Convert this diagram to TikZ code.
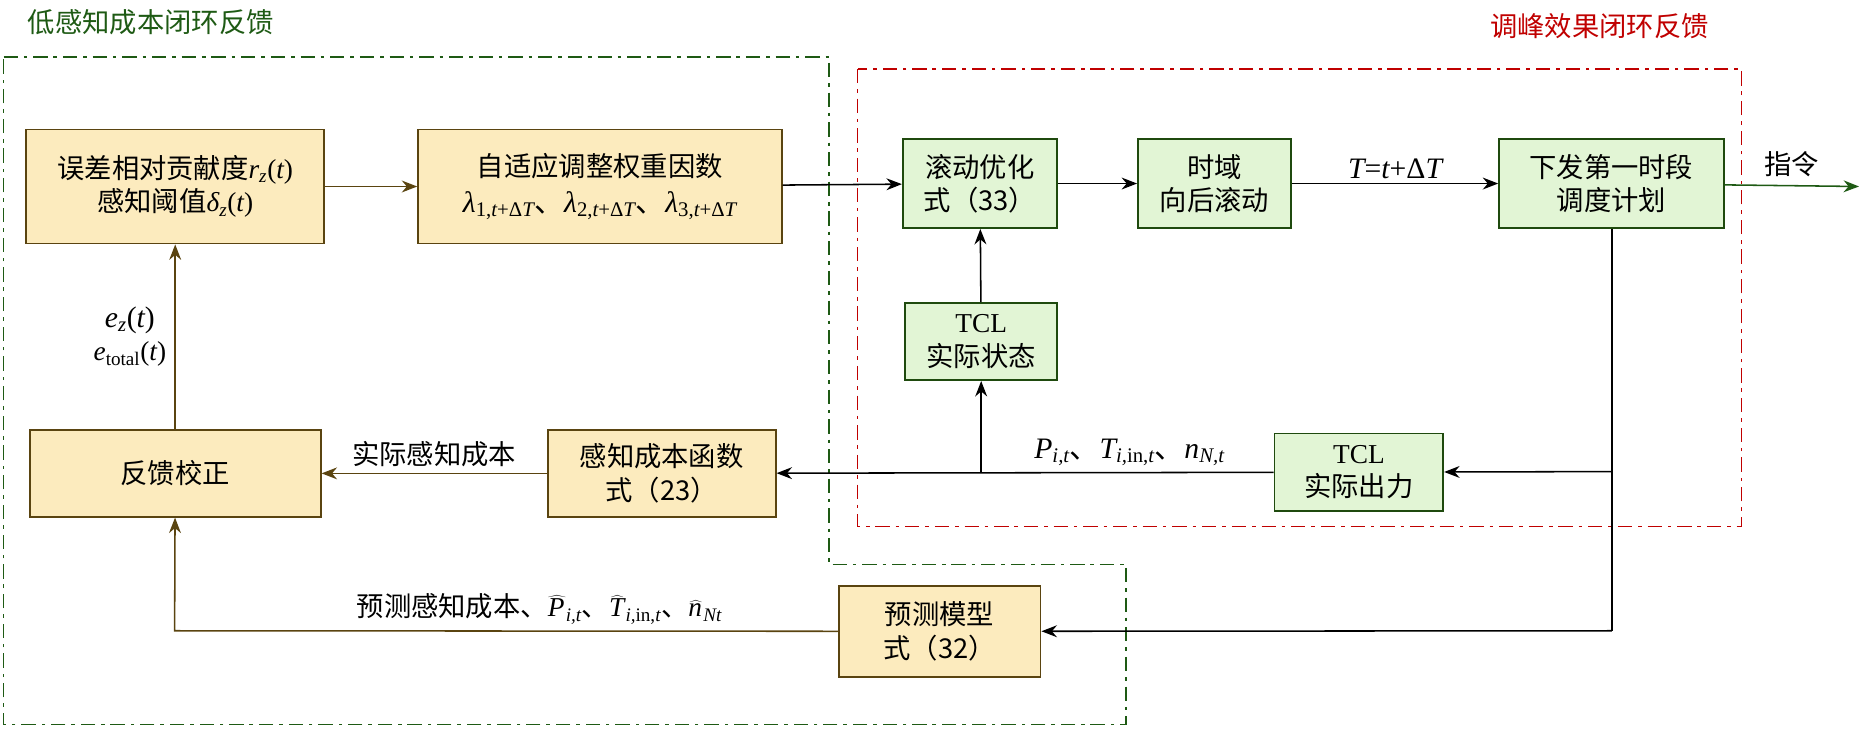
\documentclass[tikz,border=0pt]{standalone}
\usepackage{fontspec}
\setmainfont{Liberation Serif}
\newfontfamily\cjk{Noto Sans CJK SC}
\usetikzlibrary{arrows.meta}
\definecolor{ybox}{HTML}{FCEBBE}
\definecolor{ybord}{HTML}{5A4410}
\definecolor{gbox}{HTML}{E2F5D5}
\definecolor{gbord}{HTML}{1F4A0E}
\definecolor{dgreen}{HTML}{1E5A14}
\definecolor{dred}{HTML}{C00000}
\newcommand{\mi}[1]{{\rmfamily\itshape #1}}
\newcommand{\mr}[1]{{\rmfamily #1}}
\newcommand{\sbx}[1]{\textsubscript{#1}}
\newcommand{\hatx}[1]{$\widehat{\hbox{\mi{#1}\kern1pt}}$}
\begin{document}
\begin{tikzpicture}[x=1pt,y=-1pt,
  every node/.style={font=\fontsize{23}{28}\selectfont\cjk},
  yb/.style={draw=ybord,fill=ybox,line width=1.5pt,align=center,inner sep=0},
  gb/.style={draw=gbord,fill=gbox,line width=1.5pt,align=center,inner sep=0},
  arr/.style={line width=1.3pt,-{Stealth[length=13pt,width=10pt]}},
  barr/.style={arr,draw=ybord},
  lbl/.style={inner sep=1pt},
  dd/.style={line width=1.2pt,dash pattern=on 12pt off 5pt on 3pt off 5pt}]
\useasboundingbox (0,0) rectangle (1565,614);
% regions
\draw[dd,draw=dgreen] (3,48) -- (698,48) -- (698,475) -- (948,475) -- (948,610) -- (3,610) -- cycle;
\draw[dd,draw=dred] (722,58) rectangle (1466,443);
\node[text=dgreen,anchor=west] (t1) at (20,19) {低感知成本闭环反馈};
\node[text=dred,anchor=east] (t2) at (1442,22) {调峰效果闭环反馈};
% boxes
\node[yb,minimum width=251,minimum height=96] (b1) at (147.5,157) {误差相对贡献度\mi{r}\sbx{\mi{z}}\mr{(}\mi{t}\mr{)}\\感知阈值\mi{δ}\sbx{\mi{z}}\mr{(}\mi{t}\mr{)}};
\node[yb,minimum width=306,minimum height=96] (b2) at (505,157) {自适应调整权重因数\\[2pt]{\fontsize{25}{28}\selectfont\mi{λ}\sbx{\mr{1,}\mi{t}\mr{+Δ}\mi{T}}、\mi{λ}\sbx{\mr{2,}\mi{t}\mr{+Δ}\mi{T}}、\mi{λ}\sbx{\mr{3,}\mi{t}\mr{+Δ}\mi{T}}}};
\node[yb,minimum width=245,minimum height=73] (b3) at (147.5,398.5) {反馈校正};
\node[yb,minimum width=192,minimum height=73] (b4) at (557,398.5) {感知成本函数\\式（23）};
\node[yb,minimum width=170,minimum height=77] (b5) at (791,531.5) {预测模型\\式（32）};
\node[gb,minimum width=130,minimum height=75] (g1) at (825,154.5) {滚动优化\\式（33）};
\node[gb,minimum width=129,minimum height=75] (g2) at (1022.5,154.5) {时域\\向后滚动};
\node[gb,minimum width=189,minimum height=75] (g3) at (1356.5,154.5) {下发第一时段\\调度计划};
\node[gb,minimum width=128,minimum height=65] (g4) at (826,287.5) {\mr{TCL}\\实际状态};
\node[gb,minimum width=142,minimum height=65] (g5) at (1144,397.5) {\mr{TCL}\\实际出力};
% coordinates
\coordinate (out) at (1565,157);
\coordinate (j1) at (1357,397);
\coordinate (j2) at (1357,531);
\coordinate (j3) at (826,397);
\coordinate (j4) at (147,531);
% connectors
\draw[barr] (b1) -- (b2);
\draw[arr] (b2) -- (g1);
\draw[arr] (g1) -- (g2);
\draw[arr] (g2) -- node[lbl,above=2pt] {\fontsize{25}{28}\selectfont\mi{T}\mr{=}\mi{t}\mr{+Δ}\mi{T}} (g3);
\draw[arr,draw=dgreen] (g3) -- node[lbl,above=6pt] {指令} (out);
\draw[arr] (g4) -- (g1);
\draw[line width=1.3pt] (g3.south -| j1) -- (j2);
\draw[arr] (j1) -- (g5);
\draw[arr] (j2) -- (b5);
\draw[arr] (g5) -- node[lbl,above=4pt,pos=0.29] {\fontsize{25}{28}\selectfont\mi{P}\sbx{\mi{i,t}}、\mi{T}\sbx{\mi{i,}\mr{in,}\mi{t}}、\mi{n}\sbx{\mi{N,t}}} (b4);
\draw[arr] (j3) -- (g4);
\draw[barr] (b4) -- node[lbl,above=4pt] {实际感知成本} (b3);
\draw[barr] (b3) -- node[lbl,left=6pt,align=center] {\fontsize{25}{30}\selectfont\mi{e}\sbx{\mi{z}}\mr{(}\mi{t}\mr{)}\\\mi{e}\sbx{\mr{total}}\mr{(}\mi{t}\mr{)}} (b1);
\draw[barr] (b5) -- node[lbl,above=4pt,pos=0.45] {预测感知成本、\hatx{P}\sbx{\mi{i,t}}、\hatx{T}\sbx{\mi{i,}\mr{in,}\mi{t}}、\hatx{n}\sbx{\mi{Nt}}} (j4) -- (b3);
\end{tikzpicture}
\end{document}
